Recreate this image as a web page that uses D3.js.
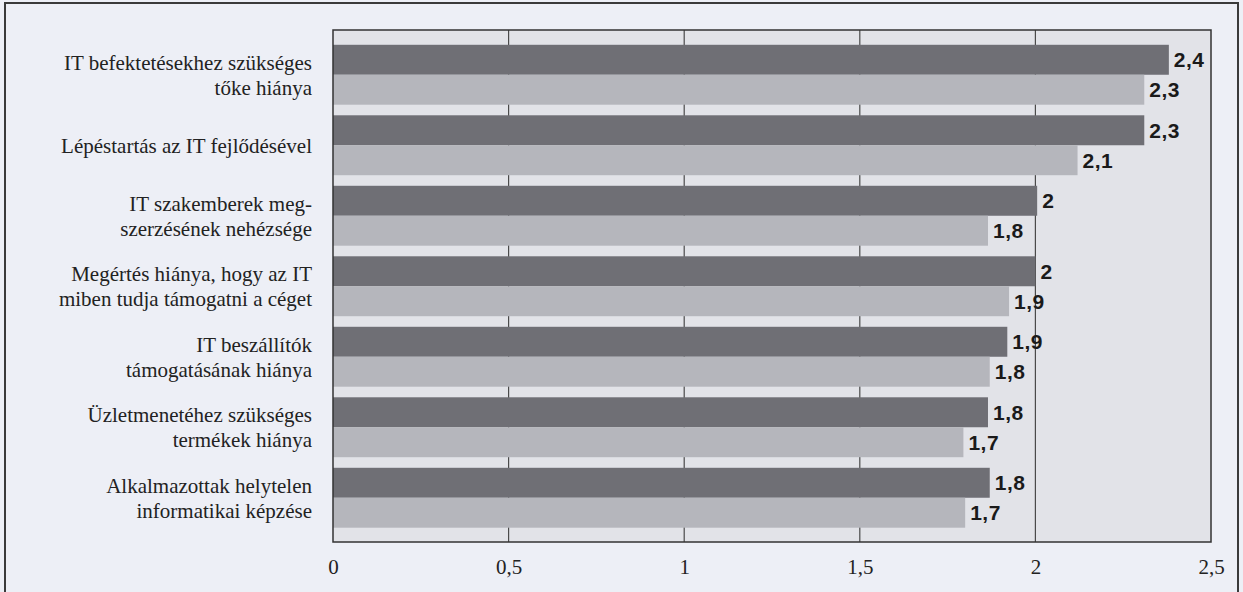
<!DOCTYPE html>
<html>
<head>
<meta charset="utf-8">
<script src="https://cdn.jsdelivr.net/npm/d3@7"></script>
<style>
  html, body { margin: 0; padding: 0; background: #edeff6; }
  svg { display: block; }
</style>
</head>
<body>
<svg id="chart" width="1243" height="592"></svg>
<script>
// ---- data ----
const categories = [
  ["IT befektetésekhez szükséges", "tőke hiánya"],
  ["Lépéstartás az IT fejlődésével"],
  ["IT szakemberek meg-", "szerzésének nehézsége"],
  ["Megértés hiánya, hogy az IT", "miben tudja támogatni a céget"],
  ["IT beszállítók", "támogatásának hiánya"],
  ["Üzletmenetéhez szükséges", "termékek hiánya"],
  ["Alkalmazottak helytelen", "informatikai képzése"]
];
const seriesDark  = [2.38, 2.31, 2.005, 2.0, 1.92, 1.865, 1.87];
const seriesLight = [2.31, 2.12, 1.865, 1.925, 1.87, 1.795, 1.80];
const labelsDark  = ["2,4", "2,3", "2", "2", "1,9", "1,8", "1,8"];
const labelsLight = ["2,3", "2,1", "1,8", "1,9", "1,8", "1,7", "1,7"];
const tickValues  = [0, 0.5, 1, 1.5, 2, 2.5];
const tickLabels  = ["0", "0,5", "1", "1,5", "2", "2,5"];

// ---- layout ----
const svg = d3.select("#chart");
const plot = { left: 333, right: 1211, top: 30, bottom: 542 };

const keys = categories.map((c, i) => "c" + i);
const x = d3.scaleLinear().domain([0, 2.5]).range([plot.left, plot.right]);
const y = d3.scaleBand().domain(keys)
  .range([39.5, 533]).paddingInner(0.15).paddingOuter(0.075);
const sub = d3.scaleBand().domain(["dark", "light"]).range([0, y.bandwidth()]);

// outer frame
svg.append("rect").attr("x", 5).attr("y", 3).attr("width", 1233).attr("height", 640)
  .attr("fill", "#edeff6").attr("stroke", "#3a3a3a").attr("stroke-width", 2);

// plot background
svg.append("rect").attr("x", plot.left).attr("y", plot.top)
  .attr("width", plot.right - plot.left).attr("height", plot.bottom - plot.top)
  .attr("fill", "#e2e3e8");

// gridlines
svg.append("g").selectAll("line").data(tickValues.slice(1, -1)).join("line")
  .attr("x1", d => x(d)).attr("x2", d => x(d))
  .attr("y1", plot.top).attr("y2", plot.bottom)
  .attr("stroke", "#4a4a4a").attr("stroke-width", 1.2);

// bars
const groups = svg.append("g").selectAll("g").data(keys).join("g")
  .attr("transform", d => `translate(0,${y(d)})`);

groups.append("rect")
  .attr("x", x(0)).attr("y", sub("dark"))
  .attr("width", (d, i) => x(seriesDark[i]) - x(0))
  .attr("height", sub.bandwidth())
  .attr("fill", "#6f6f75");

groups.append("rect")
  .attr("x", x(0)).attr("y", sub("light"))
  .attr("width", (d, i) => x(seriesLight[i]) - x(0))
  .attr("height", sub.bandwidth())
  .attr("fill", "#b5b6bc");

// value labels
const valFont = "'Liberation Sans', Arial, sans-serif";
groups.append("text")
  .attr("x", (d, i) => x(seriesDark[i]) + 5)
  .attr("y", sub("dark") + sub.bandwidth() / 2)
  .attr("dy", "0.36em")
  .attr("font-family", valFont).attr("font-weight", "bold")
  .attr("font-size", 21).attr("letter-spacing", 0.5)
  .attr("fill", "#1a1a1a")
  .text((d, i) => labelsDark[i]);

groups.append("text")
  .attr("x", (d, i) => x(seriesLight[i]) + 5)
  .attr("y", sub("light") + sub.bandwidth() / 2)
  .attr("dy", "0.36em")
  .attr("font-family", valFont).attr("font-weight", "bold")
  .attr("font-size", 21).attr("letter-spacing", 0.5)
  .attr("fill", "#1a1a1a")
  .text((d, i) => labelsLight[i]);

// plot border
svg.append("rect").attr("x", plot.left).attr("y", plot.top)
  .attr("width", plot.right - plot.left).attr("height", plot.bottom - plot.top)
  .attr("fill", "none").attr("stroke", "#333").attr("stroke-width", 1.5);

// category labels
const serif = "'Liberation Serif', 'Times New Roman', serif";
const catG = svg.append("g");
categories.forEach((lines, i) => {
  const cy = y(keys[i]) + y.bandwidth() / 2;
  const lh = 25;
  const t = catG.append("text")
    .attr("text-anchor", "end")
    .attr("font-family", serif).attr("font-size", 21)
    .attr("fill", "#222");
  lines.forEach((ln, j) => {
    t.append("tspan")
      .attr("x", 312)
      .attr("y", cy + (j - (lines.length - 1) / 2) * lh)
      .attr("dy", "0.35em")
      .text(ln);
  });
});

// x axis labels
const axis = d3.axisBottom(x).tickValues(tickValues)
  .tickFormat((d, i) => tickLabels[i]).tickSize(0).tickPadding(17);
const ax = svg.append("g").attr("transform", `translate(0,${plot.bottom})`).call(axis);
ax.select(".domain").remove();
ax.selectAll("text").attr("font-family", serif).attr("font-size", 21).attr("fill", "#222");
</script>
</body>
</html>
